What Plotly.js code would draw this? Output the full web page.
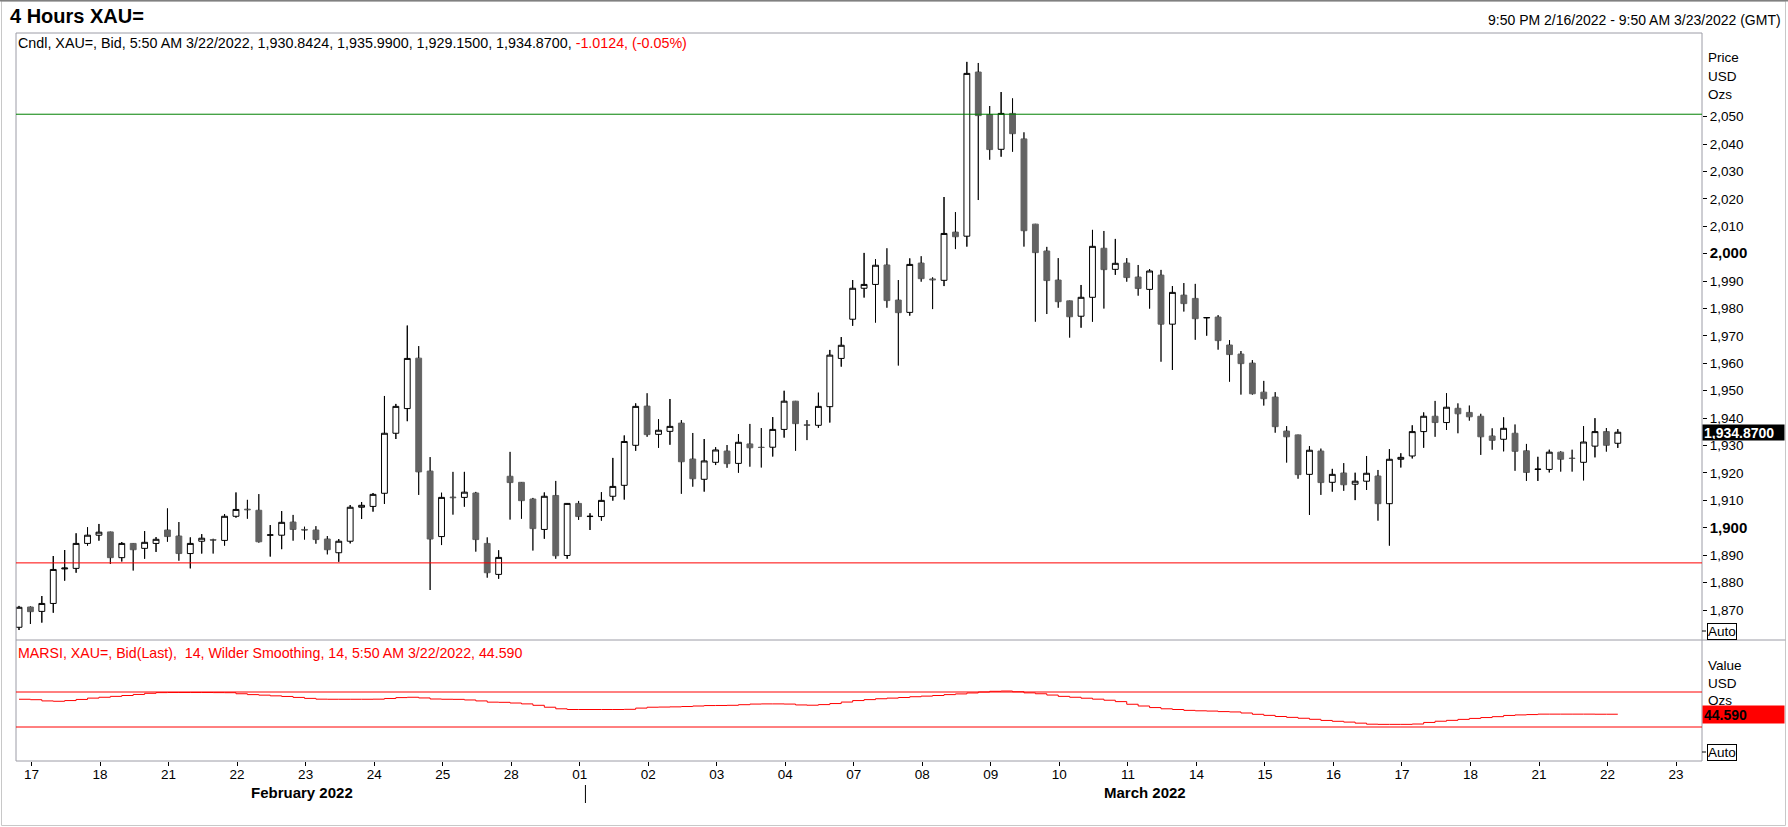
<!DOCTYPE html>
<html>
<head>
<meta charset="utf-8">
<script src="https://cdn.plot.ly/plotly-3.0.1.min.js"></script>
<style>
  html, body { margin: 0; padding: 0; background: #fff; }
  #chart { width: 1788px; height: 827px; }
</style>
</head>
<body>
<div id="chart"></div>
<script>
// 4-hour candles, XAU= bid, 21:50 16 Feb 2022 .. 05:50 22 Mar 2022 (6 bars per day)
var open = [
  1863.7, 1871.1, 1869.5, 1872.4, 1885.0, 1885.2, 1894.3, 1897.3, 1898.5, 1889.1,
  1894.3, 1892.5, 1894.3, 1899.2, 1897.0, 1890.6, 1895.1, 1895.7, 1895.4, 1904.2,
  1906.8, 1906.4, 1897.3, 1897.3, 1902.1, 1899.4, 1899.2, 1895.9, 1890.9, 1895.1,
  1907.5, 1907.8, 1912.6, 1934.5, 1943.5, 1961.9, 1920.7, 1896.8, 1911.2, 1911.1,
  1912.7, 1894.3, 1883.0, 1918.8, 1916.6, 1910.5, 1899.4, 1911.8, 1889.9, 1908.9,
  1904.1, 1904.1, 1911.5, 1915.5, 1930.1, 1944.4, 1934.1, 1935.2, 1938.2, 1925.1,
  1917.7, 1923.9, 1928.0, 1923.5, 1930.6, 1929.4, 1929.4, 1935.9, 1946.2, 1937.6,
  1937.4, 1944.2, 1961.8, 1976.1, 1987.4, 1988.8, 1995.9, 1983.1, 1978.6, 1996.6,
  1990.8, 1990.3, 2007.9, 2006.4, 2066.3, 2050.8, 2038.1, 2051.2, 2041.9, 2010.8,
  2001.0, 1990.4, 1982.8, 1977.2, 1984.1, 2002.0, 1994.3, 1996.6, 1991.5, 1987.0,
  1992.2, 1974.3, 1984.9, 1983.7, 1976.6, 1976.9, 1966.7, 1963.4, 1960.1, 1949.5,
  1947.7, 1935.3, 1933.9, 1919.5, 1928.0, 1916.6, 1920.0, 1915.9, 1917.0, 1918.9,
  1908.8, 1925.0, 1926.2, 1935.1, 1940.7, 1938.4, 1943.6, 1942.1, 1940.7, 1933.5,
  1932.3, 1934.5, 1928.1, 1921.3, 1921.3, 1927.6, 1925.4, 1923.9, 1929.8, 1935.1,
  1930.8424
];
var high = [
  1871.5, 1871.3, 1875.1, 1889.7, 1891.9, 1898.0, 1900.2, 1901.4, 1898.6, 1894.8,
  1894.4, 1898.8, 1896.6, 1907.1, 1902.1, 1896.5, 1897.7, 1896.0, 1905.0, 1912.9,
  1910.2, 1912.3, 1901.0, 1906.1, 1904.7, 1900.4, 1900.6, 1897.0, 1895.9, 1908.3,
  1909.4, 1912.7, 1948.1, 1945.2, 1973.8, 1966.3, 1925.8, 1912.8, 1920.4, 1920.4,
  1913.1, 1896.5, 1891.8, 1927.7, 1916.7, 1910.9, 1912.9, 1917.1, 1909.0, 1909.8,
  1905.3, 1913.0, 1925.5, 1933.7, 1945.4, 1949.1, 1939.6, 1947.0, 1939.3, 1934.6,
  1932.4, 1929.4, 1930.2, 1934.2, 1937.9, 1936.4, 1940.4, 1950.0, 1946.3, 1939.3,
  1949.3, 1964.9, 1969.6, 1990.4, 2000.3, 1998.0, 2002.0, 1990.4, 1998.3, 1999.1,
  1991.4, 2020.7, 2015.2, 2070.0, 2069.6, 2053.9, 2059.0, 2056.7, 2044.3, 2010.9,
  2002.5, 1998.4, 1982.9, 1988.6, 2008.7, 2008.3, 2005.4, 1998.4, 1995.9, 1994.4,
  1994.1, 1988.2, 1989.3, 1989.0, 1976.8, 1977.6, 1968.5, 1964.5, 1961.2, 1953.6,
  1949.5, 1937.1, 1934.0, 1929.8, 1928.9, 1921.5, 1923.6, 1920.1, 1926.2, 1921.1,
  1928.7, 1927.2, 1937.4, 1942.1, 1946.3, 1949.1, 1945.4, 1944.6, 1941.6, 1936.3,
  1940.3, 1937.7, 1930.6, 1925.9, 1928.5, 1927.9, 1928.5, 1937.1, 1940.0, 1936.4,
  1935.99
];
var low = [
  1862.7, 1864.9, 1865.4, 1869.0, 1880.7, 1883.6, 1893.5, 1895.3, 1886.8, 1887.7,
  1884.4, 1888.7, 1891.2, 1894.9, 1888.0, 1885.2, 1890.6, 1890.6, 1893.5, 1903.7,
  1903.3, 1894.6, 1889.5, 1892.2, 1895.3, 1895.7, 1894.2, 1890.3, 1887.6, 1894.3,
  1903.2, 1905.9, 1908.7, 1932.4, 1938.9, 1912.0, 1877.3, 1893.7, 1904.8, 1907.7,
  1891.3, 1881.8, 1881.4, 1903.0, 1903.3, 1891.7, 1896.0, 1888.7, 1888.7, 1902.9,
  1899.2, 1902.6, 1909.9, 1910.3, 1928.1, 1933.2, 1929.2, 1930.3, 1912.4, 1915.0,
  1913.2, 1922.9, 1921.9, 1920.1, 1922.3, 1922.0, 1926.0, 1932.9, 1928.1, 1932.0,
  1936.5, 1938.4, 1958.8, 1973.7, 1984.0, 1974.9, 1980.3, 1959.2, 1977.4, 1989.8,
  1979.8, 1988.2, 2001.7, 2002.6, 2019.6, 2034.3, 2035.4, 2037.2, 2002.6, 1975.2,
  1978.0, 1980.3, 1969.4, 1973.0, 1975.2, 1980.0, 1992.3, 1989.8, 1984.7, 1980.0,
  1960.6, 1957.6, 1978.9, 1968.6, 1970.1, 1965.0, 1953.3, 1948.6, 1948.6, 1944.6,
  1934.7, 1923.8, 1917.9, 1904.7, 1912.0, 1913.2, 1913.5, 1910.1, 1913.8, 1902.6,
  1893.5, 1922.0, 1925.3, 1929.2, 1933.2, 1935.7, 1934.5, 1939.1, 1926.6, 1928.5,
  1927.9, 1920.8, 1917.1, 1917.1, 1920.2, 1920.5, 1920.5, 1917.3, 1925.7, 1927.8,
  1929.15
];
var close = [
  1871.0, 1869.4, 1872.4, 1884.8, 1885.3, 1894.3, 1897.3, 1898.4, 1889.1, 1894.3,
  1892.0, 1894.7, 1895.8, 1896.8, 1890.6, 1894.3, 1896.2, 1895.5, 1904.2, 1906.7,
  1906.6, 1894.9, 1897.4, 1902.0, 1899.4, 1899.2, 1895.7, 1892.0, 1895.1, 1907.5,
  1908.2, 1912.2, 1934.5, 1944.3, 1961.8, 1920.4, 1895.9, 1911.1, 1911.0, 1913.0,
  1895.7, 1883.6, 1889.2, 1916.5, 1909.9, 1899.7, 1911.5, 1889.8, 1908.9, 1904.1,
  1904.2, 1910.0, 1915.1, 1931.5, 1944.3, 1934.0, 1935.6, 1937.0, 1924.1, 1917.9,
  1924.4, 1928.4, 1923.4, 1931.2, 1929.2, 1929.3, 1935.9, 1946.2, 1938.0, 1937.4,
  1944.3, 1963.0, 1966.6, 1987.4, 1988.8, 1995.8, 1982.9, 1978.5, 1996.1, 1990.9,
  1990.5, 2007.4, 2006.2, 2065.8, 2050.4, 2038.0, 2051.2, 2043.8, 2008.4, 2000.4,
  1990.2, 1982.5, 1977.0, 1984.1, 2002.7, 1994.2, 1996.5, 1991.3, 1987.3, 1993.7,
  1974.3, 1985.9, 1981.8, 1976.3, 1976.7, 1968.3, 1963.2, 1959.9, 1948.9, 1947.1,
  1936.9, 1933.2, 1919.4, 1928.3, 1916.5, 1919.5, 1915.7, 1917.0, 1919.9, 1908.8,
  1925.0, 1925.7, 1935.1, 1940.7, 1938.4, 1944.0, 1941.6, 1940.5, 1933.2, 1931.9,
  1936.3, 1927.9, 1920.2, 1921.4, 1927.6, 1925.0, 1925.3, 1931.3, 1935.1, 1930.1,
  1934.87
];
// MARSI (14, Wilder smoothing) per bar
var marsi = [
  61.7, 61.2, 59.8, 59.4, 60.2, 61.5, 63.0, 64.0, 65.0, 66.0,
  67.2, 68.5, 69.3, 69.4, 69.4, 69.4, 69.4, 69.3, 69.2, 68.0,
  67.0, 66.4, 65.6, 64.9, 63.8, 62.7, 61.8, 61.7, 61.7, 61.7,
  61.7, 61.8, 62.6, 63.6, 64.0, 63.2, 62.0, 61.7, 61.6, 60.9,
  59.8, 58.4, 58.2, 57.4, 56.4, 54.8, 52.6, 50.8, 50.0, 50.0,
  50.0, 50.0, 50.0, 50.2, 51.6, 52.6, 52.8, 53.0, 53.4, 54.0,
  54.5, 54.6, 54.8, 55.5, 56.2, 56.4, 56.4, 56.2, 55.2, 54.9,
  55.6, 56.8, 58.5, 60.2, 61.3, 62.3, 63.0, 63.7, 64.6, 65.3,
  66.0, 67.0, 67.8, 68.9, 70.0, 70.8, 71.1, 70.3, 69.0, 68.0,
  66.5, 65.0, 64.0, 62.9, 61.8, 60.6, 59.0, 56.0, 54.0, 52.2,
  50.8, 50.0, 49.0, 48.5, 48.2, 47.6, 47.2, 46.0, 44.5, 43.3,
  42.0, 41.0, 40.0, 38.8, 37.5, 36.5, 35.6, 34.4, 33.2, 33.0,
  33.0, 33.0, 33.4, 35.2, 36.6, 37.6, 38.7, 39.8, 40.8, 41.8,
  43.2, 43.8, 44.2, 44.7, 44.7, 44.7, 44.7, 44.7, 44.6, 44.6,
  44.59
];
var dayLabels = ['17','18','21','22','23','24','25','28','01','02','03','04',
  '07','08','09','10','11','14','15','16','17','18','21','22','23'];
var priceTicks = [1870,1880,1890,1900,1910,1920,1930,1940,1950,1960,1970,1980,
  1990,2000,2010,2020,2030,2040,2050];
var upperLine = 2050.9, lowerLine = 1887.2;
var rsiBands = [70, 30];
var lastPrice = 1934.87, lastRsi = 44.59;

var FONT = '"Liberation Sans", Arial, sans-serif';
var L = 16, R = 1702, T = 33, B = 761;
function px(x) { return (x - L) / (R - L); }
function py(y) { return (B - y) / (B - T); }
var split = (B - 640) / (B - T);

var idx = open.map(function (v, i) { return i; });

// black wicks outside the bodies
var wx = [], wy = [];
for (var i = 0; i < open.length; i++) {
  var lo = Math.min(open[i], close[i]), hi = Math.max(open[i], close[i]);
  wx.push(i, i, null, i, i, null);
  wy.push(low[i], lo, null, hi, high[i], null);
}

var tickPos = dayLabels.map(function (d, k) { return 6 * k + 1.1; });
var priceText = priceTicks.map(function (v) {
  var s = v.toLocaleString('en-US');
  return (v % 100 === 0) ? '<span style="font-size:15px"><b>' + s + '</b></span>' : s;
});

var data = [
  {
    type: 'candlestick', x: idx, open: open, high: high, low: low, close: close,
    xaxis: 'x', yaxis: 'y', whiskerwidth: 0, hoverinfo: 'skip',
    increasing: {line: {color: '#000000', width: 1}, fillcolor: '#ffffff'},
    decreasing: {line: {color: '#636363', width: 1}, fillcolor: '#636363'}
  },
  {
    type: 'scatter', mode: 'lines', x: wx, y: wy, xaxis: 'x', yaxis: 'y',
    line: {color: '#000000', width: 1}, hoverinfo: 'skip', connectgaps: false
  },
  {
    type: 'scatter', mode: 'lines', x: idx, y: marsi, xaxis: 'x', yaxis: 'y2',
    line: {color: '#ff0000', width: 1, shape: 'hv'}, hoverinfo: 'skip'
  }
];

var frame = '#9c9ca6';
var shapes = [
  {type: 'rect', xref: 'paper', yref: 'paper', x0: px(1.5), x1: px(1785.5), y0: py(825.5), y1: py(1),
   line: {color: '#c8c8c8', width: 1}},
  {type: 'line', xref: 'paper', yref: 'paper', x0: px(0), x1: px(1788), y0: py(0.5), y1: py(0.5),
   line: {color: '#808080', width: 2}},
  {type: 'line', xref: 'paper', yref: 'paper', x0: 0, x1: 1, y0: 1, y1: 1, line: {color: frame, width: 1}},
  {type: 'line', xref: 'paper', yref: 'paper', x0: 0, x1: 0, y0: 0, y1: 1, line: {color: frame, width: 1}},
  {type: 'line', xref: 'paper', yref: 'paper', x0: 1, x1: 1, y0: 0, y1: 1, line: {color: frame, width: 1}},
  {type: 'line', xref: 'paper', yref: 'paper', x0: 0, x1: px(1785.5), y0: split, y1: split, line: {color: frame, width: 1}},
  {type: 'line', xref: 'paper', yref: 'paper', x0: 0, x1: 1, y0: 0, y1: 0, line: {color: frame, width: 1}},
  {type: 'line', xref: 'paper', yref: 'y', x0: 0, x1: 1, y0: upperLine, y1: upperLine, line: {color: '#008000', width: 1}},
  {type: 'line', xref: 'paper', yref: 'y', x0: 0, x1: 1, y0: lowerLine, y1: lowerLine, line: {color: '#ff0000', width: 1}},
  {type: 'line', xref: 'x', yref: 'paper', x0: 49.6, x1: 49.6, y0: py(785), y1: py(803), line: {color: '#000000', width: 1}},
  {type: 'line', xref: 'paper', yref: 'paper', x0: 1, x1: px(1706), y0: py(631), y1: py(631), line: {color: '#000000', width: 1}},
  {type: 'line', xref: 'paper', yref: 'paper', x0: 1, x1: px(1706), y0: py(752), y1: py(752), line: {color: '#000000', width: 1}}
];
rsiBands.forEach(function (v) {
  shapes.push({type: 'line', xref: 'paper', yref: 'y2', x0: 0, x1: 1, y0: v, y1: v,
    line: {color: '#ff0000', width: 1}});
});

function note(text, x, y, opts) {
  var a = {text: text, xref: 'paper', yref: 'paper', x: x, y: y, xanchor: 'left', yanchor: 'middle',
    showarrow: false, font: {family: FONT, size: 13, color: '#000000'}};
  for (var k in opts) a[k] = opts[k];
  return a;
}

var annotations = [
  note('<b>4 Hours XAU=</b>', px(8), py(16), {font: {family: FONT, size: 20, color: '#000'}}),
  note('9:50 PM 2/16/2022 - 9:50 AM 3/23/2022 (GMT)', px(1783), py(20),
       {xanchor: 'right', font: {family: FONT, size: 14, color: '#000'}}),
  note('Cndl, XAU=, Bid, 5:50 AM 3/22/2022, 1,930.8424, 1,935.9900, 1,929.1500, 1,934.8700, ' +
       '<span style="color:#ff0000">-1.0124, (-0.05%)</span>', px(16), py(43),
       {font: {family: FONT, size: 14.3, color: '#000'}}),
  note('MARSI, XAU=, Bid(Last),  14, Wilder Smoothing, 14, 5:50 AM 3/22/2022, 44.590', px(16), py(653),
       {font: {family: FONT, size: 14.2, color: '#ff0000'}}),
  note('Price', px(1706), py(58), {font: {family: FONT, size: 13.5, color: '#000'}}),
  note('USD', px(1706), py(76.5), {font: {family: FONT, size: 13.5, color: '#000'}}),
  note('Ozs', px(1706), py(94.5), {font: {family: FONT, size: 13.5, color: '#000'}}),
  note('Value', px(1706), py(665), {font: {family: FONT, size: 13.5, color: '#000'}}),
  note('USD', px(1706), py(683), {font: {family: FONT, size: 13.5, color: '#000'}}),
  note('Ozs', px(1706), py(700), {font: {family: FONT, size: 13.5, color: '#000'}}),
  note('<b>1,934.8700</b>', 1, lastPrice, {yref: 'y', bgcolor: '#000000', width: 79, height: 13, align: 'left',
       borderpad: 1, font: {family: FONT, size: 14, color: '#ffffff'}}),
  note('<b>44.590</b>', 1, lastRsi, {yref: 'y2', bgcolor: '#ff0000', width: 79, height: 15, align: 'left',
       borderpad: 1, font: {family: FONT, size: 14, color: '#000000'}}),
  note('Auto', px(1707), py(631), {bordercolor: '#000000', borderwidth: 1, borderpad: 0,
       font: {family: FONT, size: 13.5, color: '#000'}}),
  note('Auto', px(1707), py(752), {bordercolor: '#000000', borderwidth: 1, borderpad: 0,
       font: {family: FONT, size: 13.5, color: '#000'}}),
  note('<b>February 2022</b>', 24.8, py(792), {xref: 'x', xanchor: 'center', font: {family: FONT, size: 15, color: '#000'}}),
  note('<b>March 2022</b>', 98.6, py(792), {xref: 'x', xanchor: 'center', font: {family: FONT, size: 15, color: '#000'}})
];

var layout = {
  width: 1788, height: 827,
  margin: {l: L, r: 1788 - R, t: T, b: 827 - B, pad: 0},
  paper_bgcolor: '#ffffff', plot_bgcolor: '#ffffff',
  showlegend: false,
  font: {family: FONT, size: 13, color: '#000000'},
  boxgap: 0.27,
  xaxis: {
    domain: [0, 1], anchor: 'y2', range: [(L - 19) / 11.42, (R - 19) / 11.42],
    tickmode: 'array', tickvals: tickPos, ticktext: dayLabels,
    ticks: 'outside', ticklen: 4, tickcolor: '#000000', tickfont: {family: FONT, size: 13.5},
    ticklabelstandoff: -3,
    showgrid: false, zeroline: false, showline: false, fixedrange: true,
    rangeslider: {visible: false}
  },
  yaxis: {
    domain: [split, 1], anchor: 'x', side: 'right', range: [1859.06, 2080.54],
    tickmode: 'array', tickvals: priceTicks, ticktext: priceText,
    ticks: 'outside', ticklen: 4, tickcolor: '#000000', tickfont: {family: FONT, size: 13.5},
    showgrid: false, zeroline: false, showline: false, fixedrange: true
  },
  yaxis2: {
    domain: [0, split], anchor: 'x', side: 'right', range: [-8.86, 129.43],
    showticklabels: false, ticks: '', showgrid: false, zeroline: false, showline: false, fixedrange: true
  },
  shapes: shapes,
  annotations: annotations
};

Plotly.newPlot('chart', data, layout, {displayModeBar: false, staticPlot: true});
</script>
</body>
</html>
